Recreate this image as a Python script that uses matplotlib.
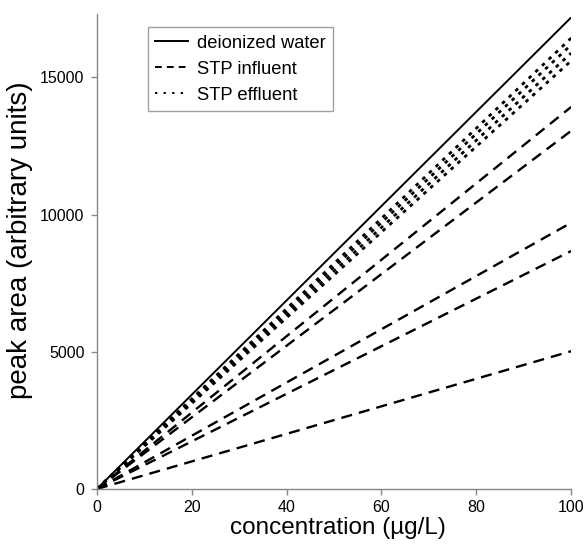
import matplotlib
matplotlib.use("Agg")
import matplotlib.pyplot as plt
from matplotlib.lines import Line2D

plt.rcParams['font.family'] = ['Liberation Sans', 'DejaVu Sans']

# data: end values at 100 µg/L for each calibration line (through origin)
conc = [0, 100]
deionized_end = [17180]
influent_end = [13920, 13050, 9700, 8670, 5020]
effluent_end = [16430, 16180, 15880, 15600]
x_ticks = [0, 20, 40, 60, 80, 100]
y_ticks = [0, 5000, 10000, 15000]

DASH = (0, (4.7, 3.0))
DOT = (0, (1.3, 2.0))

fig = plt.figure(figsize=(5.84, 5.45), dpi=100)
ax = fig.add_axes([0.166, 0.1028, 0.812, 0.8712])

for v in deionized_end:
    ax.plot(conc, [0, v], color='black', lw=1.4, solid_capstyle='butt')
for v in influent_end:
    ax.plot(conc, [0, v], color='black', lw=1.7, linestyle=DASH)
for v in effluent_end:
    ax.plot(conc, [0, v], color='black', lw=2.0, linestyle=DOT)

ax.set_xlim(0, 100)
ax.set_ylim(0, 17300)
ax.set_xticks(x_ticks)
ax.set_yticks(y_ticks)

for s in ['top', 'right']:
    ax.spines[s].set_visible(False)
for s in ['left', 'bottom']:
    ax.spines[s].set_color('#888888')
    ax.spines[s].set_linewidth(1.0)
ax.tick_params(axis='both', colors='#888888', labelcolor='black', labelsize=11.5,
               length=4, width=1.0, direction='out')
ax.tick_params(axis='x', pad=4)
ax.tick_params(axis='y', pad=5)

ax.set_xlabel('concentration (µg/L)', fontsize=17.5)
ax.xaxis.set_label_coords(0.509, -0.058)
ax.set_ylabel('peak area (arbitrary units)', fontsize=20)
ax.yaxis.set_label_coords(-0.135, 0.524)

handles = [
    Line2D([], [], color='black', lw=1.4),
    Line2D([], [], color='black', lw=1.4, linestyle=(0, (3.5, 2.6))),
    Line2D([], [], color='black', lw=1.4, linestyle=(0, (1.2, 3.2))),
]
leg = ax.legend(handles, ['deionized water', 'STP influent', 'STP effluent'],
                loc='upper left', bbox_to_anchor=(0.1076, 0.9726), fontsize=13.2,
                frameon=True, fancybox=False, handlelength=1.8, handletextpad=0.45,
                borderpad=0.4, labelspacing=0.5, borderaxespad=0)
leg.get_frame().set_edgecolor('#888888')
leg.get_frame().set_linewidth(1.0)

fig.savefig('out.png', dpi=100)
